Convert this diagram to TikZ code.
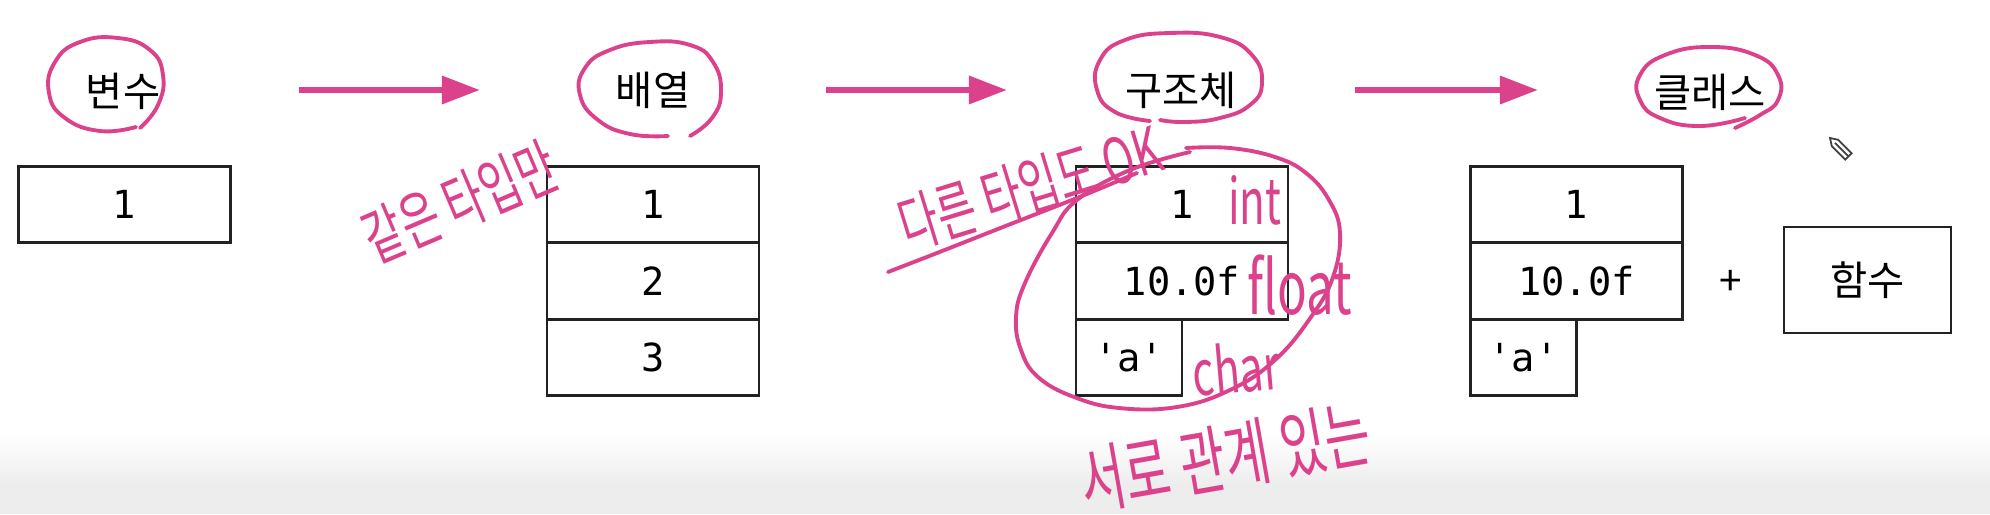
\documentclass[tikz,border=0pt]{standalone}
\usepackage{fontspec}
\usepackage{graphicx}
\setmainfont{Noto Sans CJK KR}
\setmonofont{DejaVu Sans Mono}
\usetikzlibrary{arrows.meta,positioning}
\definecolor{penpink}{HTML}{DC428C}
\definecolor{boxline}{HTML}{222222}
\newcommand{\tall}[1]{\scalebox{1}[1.5]{#1}}

\begin{document}
\begin{tikzpicture}[
  x=0.01cm, y=0.01cm,
  title/.style={font=\fontsize{11.5}{13}\selectfont, inner sep=2pt},
  cell/.style={draw=boxline, line width=0.8pt, minimum width=2.12cm, minimum height=0.765cm, inner sep=0pt, outer sep=0pt, font=\ttfamily\fontsize{11}{13}\selectfont},
  halfcell/.style={cell, minimum width=1.06cm},
  flow/.style={penpink, line width=1.8pt, -{Triangle[length=0.38cm, width=0.27cm]}},
  pen/.style={penpink, line width=1.1pt, line cap=round, line join=round},
  hand/.style={penpink, font=\fontsize{12}{14}\selectfont, inner sep=0pt}
]
\useasboundingbox (0,0) rectangle (1990,514);
\fill[white] (0,0) rectangle (1990,514);
\shade[top color=white, bottom color=black!7] (0,30) rectangle (1990,80);
\fill[black!7] (0,0) rectangle (1990,30);

% titles
\node[title] (tVar) at (123,423) {변수};
\node[title] (tArr) at (653,424) {배열};
\node[title] (tSt) at (1181,424) {구조체};
\node[title] (tCls) at (1710,422) {클래스};

\coordinate (a1s) at (299,424);  \coordinate (a1e) at (480,424);
\coordinate (a2s) at (826,424);  \coordinate (a2e) at (1007,424);
\coordinate (a3s) at (1355,424); \coordinate (a3e) at (1538,424);
\draw[flow] (a1s) -- (a1e);
\draw[flow] (a2s) -- (a2e);
\draw[flow] (a3s) -- (a3e);

% variable
\node[cell] (v1) at (124.5,309.5) {1};

% array
\node[cell] (r1) at (653,309.5) {1};
\node[cell, below=0pt of r1] (r2) {2};
\node[cell, below=0pt of r2] (r3) {3};

% struct
\node[cell] (s1) at (1182,309.5) {1};
\node[cell, below=0pt of s1] (s2) {10.0f};
\node[halfcell, anchor=north west] (s3) at (s2.south west) {\textquotesingle a\textquotesingle};

% class
\node[cell] (c1) at (1576.5,309.5) {1};
\node[cell, below=0pt of c1] (c2) {10.0f};
\node[halfcell, anchor=north west] (c3) at (c2.south west) {\textquotesingle a\textquotesingle};
\node[title] (plus) at (1731,231) {+};
\node[cell, minimum width=1.67cm, minimum height=1.06cm, font=\fontsize{11.5}{13}\selectfont] (fn) at (1867.5,234) {함수};

% pen marks
\draw[pen] plot[smooth, tension=0.8] coordinates {(136,387) (100,383) (65,396) (49,421) (55,452) (80,472) (118,476) (150,464) (163,439) (158,409) (140,386)};
\draw[pen] plot[smooth, tension=0.8] coordinates {(668,378) (630,380) (598,394) (580,419) (585,446) (610,464) (650,472) (690,469) (713,452) (721,422) (712,396) (690,378)};
\draw[pen] plot[smooth, tension=0.8] coordinates {(1150,393) (1115,402) (1097,424) (1100,454) (1125,474) (1170,481) (1220,477) (1252,459) (1262,431) (1250,409) (1220,396) (1185,392) (1160,394)};
\draw[pen] plot[smooth, tension=0.8] coordinates {(1745,396) (1700,388) (1660,396) (1640,414) (1640,439) (1665,459) (1710,467) (1755,459) (1778,439) (1778,414) (1760,399) (1735,386)};
\draw[pen] plot[smooth, tension=0.7] coordinates {(1190,362) (1130,344) (1077,314) (1052,281) (1025,231) (1016,197) (1021,164) (1038,137) (1074,117) (1119,106) (1177,107) (1230,124) (1275,154) (1311,197) (1333,237) (1340,281) (1329,314) (1306,341) (1275,357) (1230,366) (1186,366)};
\draw[pen] plot[smooth, tension=0.6] coordinates {(888,242) (937,261) (1003,287) (1077,316) (1137,341)};

\node[hand, rotate=23] (nSame) at (460,312) {\tall{같은 타입만}};
\node[hand, rotate=17] (nDiff) at (1030,327) {\tall{다른 타입도 OK}};
\node[hand] (nInt) at (1255,314) {\tall{int}};
\node[hand, font=\fontsize{14}{16}\selectfont] (nFloat) at (1300,229) {\tall{float}};
\node[hand, rotate=5] (nChar) at (1236,146) {\tall{char}};
\node[hand, font=\fontsize{14}{16}\selectfont, rotate=10] (nRel) at (1225,57) {\tall{서로 관계 있는}};

% cursor
\begin{scope}[shift={(1830,376)}, rotate=-45, black!75, line width=0.5pt]
  \draw (0,0) -- (7,4.5) -- (26,4.5) -- (26,-4.5) -- (7,-4.5) -- cycle;
  \draw (7,0) -- (26,0);
\end{scope}
\end{tikzpicture}
\end{document}
